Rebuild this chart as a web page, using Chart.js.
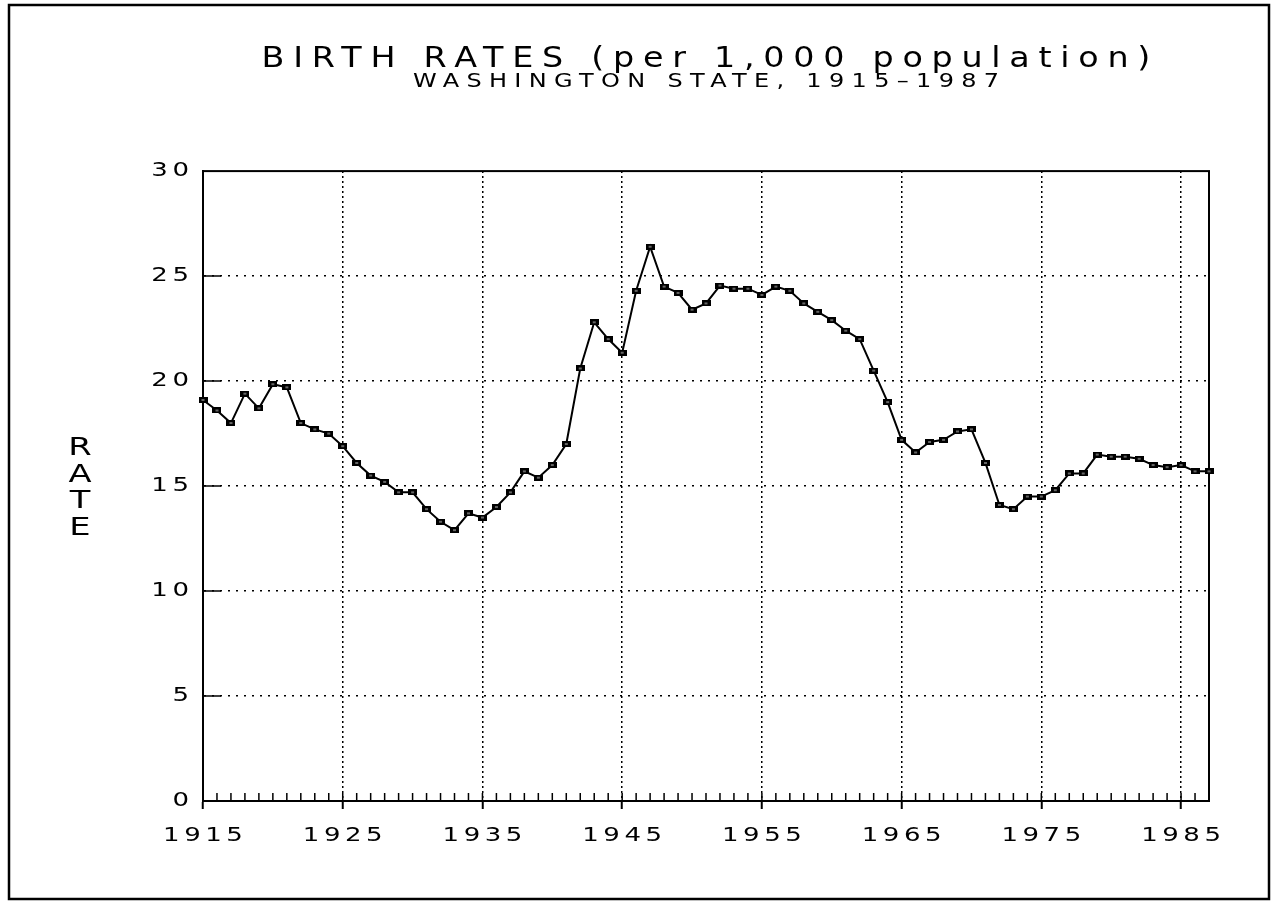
<!DOCTYPE html>
<html><head><meta charset="utf-8">
<script src="https://cdn.jsdelivr.net/npm/chart.js@4.4.1/dist/chart.umd.min.js"></script>
<style>html,body{margin:0;padding:0;background:#fff;}canvas{display:block;}</style>
</head><body>
<canvas id="c" width="1272" height="905"></canvas>
<script>
const titleText = 'BIRTH RATES (per 1,000 population)';
const subtitleText = 'WASHINGTON STATE, 1915\u20131987';
const axisTitle = 'RATE';

const years = [1915,1916,1917,1918,1919,1920,1921,1922,1923,1924,
  1925,1926,1927,1928,1929,1930,1931,1932,1933,1934,
  1935,1936,1937,1938,1939,1940,1941,1942,1943,1944,
  1945,1946,1947,1948,1949,1950,1951,1952,1953,1954,
  1955,1956,1957,1958,1959,1960,1961,1962,1963,1964,
  1965,1966,1967,1968,1969,1970,1971,1972,1973,1974,
  1975,1976,1977,1978,1979,1980,1981,1982,1983,1984,
  1985,1986,1987];
const rates = [19.1,18.6,18.0,19.4,18.7,19.85,19.7,18.0,17.7,17.5,
  16.9,16.1,15.5,15.2,14.7,14.7,13.9,13.3,12.9,13.7,
  13.5,14.0,14.7,15.7,15.4,16.0,17.0,20.6,22.8,22.0,
  21.35,24.3,26.4,24.5,24.2,23.4,23.7,24.55,24.4,24.4,
  24.1,24.5,24.3,23.7,23.3,22.9,22.4,22.0,20.5,19.0,
  17.2,16.6,17.1,17.2,17.6,17.7,16.1,14.1,13.9,14.5,
  14.5,14.8,15.6,15.6,16.5,16.4,16.4,16.3,16.0,15.9,
  16.0,15.7,15.7];
const xTickLabels = [1915,1925,1935,1945,1955,1965,1975,1985];
const yTickValues = [0,5,10,15,20,25,30];

const FONT = 'DejaVu Sans';
// text styling: horizontal stretch and letter spacing per text group
const TICK_SX = 1.3, TICK_SP = 3.5;
const TITLE_SX = 1.15, TITLE_SP = 7.6;
const SUB_SX = 1.2, SUB_SP = 6.1;
const AXIS_SX = 1.35;

// point marker: small black rectangle
const pt = document.createElement('canvas');
pt.width = 9; pt.height = 6;
(function(){ const g = pt.getContext('2d'); g.fillStyle = '#000'; g.fillRect(0,0,9,6); g.fillStyle = '#666'; g.fillRect(3,2,3,2); })();

let textSX = 1;
function patchCtx(ctx){
  if (ctx.__wide) return;
  const orig = ctx.fillText;
  ctx.fillText = function(t, x, y, mw){
    if (textSX === 1) {
      return mw === undefined ? orig.call(this, t, x, y) : orig.call(this, t, x, y, mw);
    }
    this.save();
    this.translate(x, y);
    this.scale(textSX, 1);
    if (mw === undefined) orig.call(this, t, 0, 0); else orig.call(this, t, 0, 0, mw / textSX);
    this.restore();
  };
  ctx.__wide = true;
}
function wrap(obj, method, sx, sp, dx){
  if (obj['__w_' + method]) return;
  const orig = obj[method];
  obj[method] = function(...args){
    const ctx = this.ctx;
    ctx.save();
    ctx.letterSpacing = sp + 'px';
    ctx.translate(dx, 0);
    const prev = textSX; textSX = sx;
    try { orig.apply(this, args); } finally { textSX = prev; ctx.restore(); }
  };
  obj['__w_' + method] = true;
}

const textPlugin = {
  id: 'widetext',
  beforeDraw(chart){
    patchCtx(chart.ctx);
    chart.boxes.forEach(b => {
      if (!b.axis && b.options && typeof b.options.text === 'string') {
        const isTitle = b.options.text === titleText;
        const sx = isTitle ? TITLE_SX : SUB_SX;
        const sp = isTitle ? TITLE_SP : SUB_SP;
        wrap(b, 'draw', sx, sp, sp * sx / 2);
      }
    });
    Object.values(chart.scales).forEach(s => wrap(s, 'drawLabels', TICK_SX, TICK_SP, 0));
  }
};

const decorPlugin = {
  id: 'decor',
  beforeDatasetsDraw(chart){
    const {ctx, chartArea:a, scales:{x, y}} = chart;
    ctx.save();
    ctx.strokeStyle = '#000';
    ctx.lineWidth = 2;
    ctx.strokeRect(a.left, a.top, a.right - a.left, a.bottom - a.top);
    ctx.lineWidth = 1.5;
    ctx.beginPath();
    for (const t of x.ticks) {
      const px = x.getPixelForValue(t.value);
      ctx.moveTo(px, a.bottom); ctx.lineTo(px, a.bottom - 8);
    }
    for (const t of y.ticks) {
      if (t.value > 0 && t.value < 30) {
        const py = y.getPixelForValue(t.value);
        ctx.moveTo(a.left, py); ctx.lineTo(a.left + 18, py);
      }
    }
    ctx.stroke();
    ctx.restore();
  },
  afterDraw(chart){
    const ctx = chart.ctx;
    ctx.save();
    ctx.strokeStyle = '#000';
    ctx.lineWidth = 2.5;
    ctx.strokeRect(9, 5, 1260, 894);
    ctx.fillStyle = '#000';
    ctx.font = '25px "' + FONT + '"';
    ctx.textAlign = 'center';
    ctx.textBaseline = 'middle';
    const ys = [448, 475, 501, 528];
    const prev = textSX; textSX = AXIS_SX;
    axisTitle.split('').forEach((ch, i) => ctx.fillText(ch, 80, ys[i]));
    textSX = prev;
    ctx.restore();
  }
};

new Chart(document.getElementById('c'), {
  type: 'line',
  data: {
    datasets: [{
      data: years.map((yr, i) => ({x: yr, y: rates[i]})),
      borderColor: '#000',
      borderWidth: 2,
      tension: 0,
      pointStyle: pt,
      pointRadius: 4,
      clip: false
    }]
  },
  options: {
    responsive: false,
    animation: false,
    devicePixelRatio: 1,
    layout: { padding: { left: 0, right: 63, top: 0, bottom: 0 } },
    plugins: {
      legend: { display: false },
      tooltip: { enabled: false },
      title: {
        display: true, text: titleText, color: '#000', fullSize: false,
        font: { family: FONT, size: 29, weight: 'normal', lineHeight: 0.9 },
        padding: { top: 46, bottom: 0 }
      },
      subtitle: {
        display: true, text: subtitleText, color: '#000', fullSize: false,
        font: { family: FONT, size: 20, weight: 'normal', lineHeight: 1 },
        padding: { top: 0, bottom: 79 }
      }
    },
    scales: {
      x: {
        type: 'linear', min: 1915, max: 1987,
        afterFit(s){ s.height = 104; },
        ticks: {
          stepSize: 1, autoSkip: false, maxRotation: 0, minRotation: 0,
          color: '#000', font: { family: FONT, size: 20 }, padding: 15,
          labelOffset: TICK_SP * TICK_SX / 2,
          callback: v => xTickLabels.includes(v) ? String(v) : ''
        },
        grid: {
          color: c => (c.tick && xTickLabels.includes(c.tick.value) && c.tick.value !== 1915) ? '#000' : 'rgba(0,0,0,0)',
          tickColor: c => (c.tick && xTickLabels.includes(c.tick.value)) ? '#000' : 'rgba(0,0,0,0)',
          lineWidth: 1.5, tickLength: 8, tickWidth: 2
        },
        border: { display: true, color: '#000', width: 2, dash: [2, 3] }
      },
      y: {
        min: 0, max: 30,
        afterFit(s){ s.width = 203; },
        afterBuildTicks(s){ s.ticks = yTickValues.map(v => ({value: v})); },
        ticks: { color: '#000', font: { family: FONT, size: 20 }, padding: 9.5 },
        grid: {
          color: c => (c.tick && c.tick.value > 0 && c.tick.value < 30) ? '#000' : 'rgba(0,0,0,0)',
          lineWidth: 1.5, drawTicks: false
        },
        border: { display: true, color: '#000', width: 2, dash: [2, 6] }
      }
    }
  },
  plugins: [textPlugin, decorPlugin]
});
</script>
</body></html>
